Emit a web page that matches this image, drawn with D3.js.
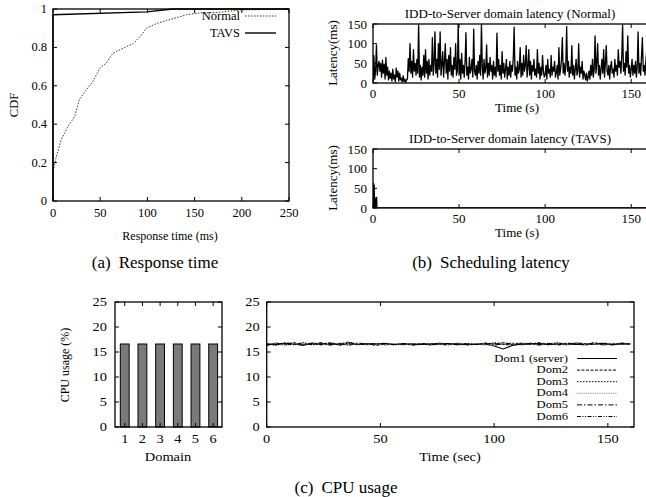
<!DOCTYPE html>
<html><head><meta charset="utf-8">
<script src="https://cdn.jsdelivr.net/npm/d3@7/dist/d3.min.js"></script>
<style>
body{margin:0;background:#fff;}
svg{display:block;}
text{font-family:"Liberation Serif","Times New Roman",Times,serif;fill:#000;}
</style></head>
<body><svg id="c" width="646" height="497"></svg>
<script>
// ---------- DATA ----------
// (a) CDF of response time
const normalRT  = [0, 0, 3.5, 8.8, 16, 23, 28, 37, 42, 49.5, 56.6, 63.6, 74, 85, 92, 99, 110, 120, 131, 141.5, 152, 175, 198, 250];
const normalCDF = [0, 0.15, 0.23, 0.32, 0.39, 0.44, 0.53, 0.59, 0.62, 0.69, 0.72, 0.77, 0.795, 0.82, 0.855, 0.90, 0.925, 0.94, 0.955, 0.97, 0.978, 0.982, 0.995, 1.0];
const tavsRT    = [0, 0, 99, 127, 250];
const tavsCDF   = [0, 0.97, 0.985, 1.0, 1.0];
const cdfXTicks = [0, 50, 100, 150, 200, 250];
const cdfYTicks = [0, 0.2, 0.4, 0.6, 0.8, 1];

// (b) scheduling latency, samples every 0.5 s
const latStep = 0.5;
const latencyNormal = [
 5,70,10,30,97,20,45,55,30,50,15,58,25,48,10,65,20,40,8,30,
 12,25,5,35,10,20,3,38,15,30,5,25,8,12,2,18,4,10,2,8,
 10,62,30,100,25,55,15,85,30,50,20,60,25,150,15,45,8,40,20,70,
 15,85,25,55,10,60,20,45,30,115,20,50,130,25,60,15,100,35,130,20,
 45,80,15,55,100,25,60,10,70,30,90,20,45,15,65,35,100,20,30,150,
 20,60,10,75,25,45,15,55,128,20,40,10,65,25,35,60,15,137,30,20,
 45,10,55,25,70,20,150,40,10,60,25,35,97,15,50,20,65,30,45,10,
 55,20,40,15,127,30,60,20,45,10,80,25,50,15,35,60,10,40,20,55,
 15,45,30,65,142,20,40,10,55,25,35,90,15,50,20,70,30,45,95,15,
 40,85,20,55,10,45,30,60,20,35,15,85,25,50,10,40,20,70,30,15,
 20,45,10,60,25,35,15,70,20,40,30,55,15,25,45,10,90,20,35,60,
 115,25,50,20,45,143,30,55,15,40,25,95,20,45,10,35,60,20,30,100,
 15,40,25,55,10,30,20,8,25,5,15,30,10,45,20,60,15,35,120,25,
 50,100,20,45,10,35,60,25,85,15,50,95,30,20,45,10,40,55,25,35,
 15,60,30,45,20,85,40,55,25,65,150,30,50,20,80,40,120,25,45,15,
 35,60,20,45,25,55,15,40,130,25,50,20,70,115,30,45,20,55,80,25
];
const tavsTime    = [0, 0.3, 0.5, 0.7, 0.9, 1.1, 1.7, 1.9, 2.1, 2.3, 2.5, 161.5];
const tavsLatency = [0, 62, 5, 58, 0, 0, 26, 4, 27, 0, 0, 0];
const latXTicks = [0, 50, 100, 150];
const latYTicks = [0, 50, 100, 150];

// (c) CPU usage
const domains  = [1, 2, 3, 4, 5, 6];
const cpuShare = [16.6, 16.6, 16.6, 16.6, 16.6, 16.6];
const cpuYTicks = [0, 5, 10, 15, 20, 25];
const cpuXTicks = [0, 50, 100, 150];
const cpuStep = 4;
const seriesNames = ["Dom1 (server)", "Dom2", "Dom3", "Dom4", "Dom5", "Dom6"];
const dom1 = [16.6,16.5,16.7,16.6,16.5,16.6,16.7,16.5,16.6,16.6,16.5,16.6,16.6,16.7,16.5,16.6,16.6,16.5,16.6,16.6,16.7,16.6,16.5,16.6,16.6,16.2,15.6,16.3,16.6,16.6,16.7,16.5,16.6,16.6,16.5,16.6,16.6,16.7,16.5,16.6,16.6];
const dom2 = [16.4,16.8,16.5,16.9,16.3,16.7,16.4,16.8,16.6,17.0,16.4,16.7,16.3,16.6,16.5,16.6,16.4,16.5,16.6,16.7,16.5,16.6,16.4,16.5,16.8,16.6,16.9,16.5,16.7,16.6,16.9,16.4,16.8,16.5,16.7,16.4,16.6,16.8,16.5,16.7,16.6];
const dom3 = [16.7,16.3,16.8,16.5,16.9,16.4,16.6,16.9,16.3,16.7,16.5,16.6,16.7,16.4,16.6,16.5,16.7,16.6,16.4,16.8,16.6,16.5,16.7,16.6,16.4,16.9,16.5,16.6,16.4,16.8,16.5,16.6,16.9,16.4,16.7,16.5,16.8,16.4,16.7,16.6,16.5];
const dom4 = [16.5,16.8,16.2,16.7,16.4,16.9,16.6,16.3,16.8,16.5,16.6,16.4,16.7,16.5,16.6,16.4,16.6,16.7,16.3,16.6,16.5,16.8,16.6,16.7,16.5,16.3,16.8,16.6,16.9,16.5,16.4,16.8,16.6,16.4,16.9,16.5,16.7,16.3,16.8,16.5,16.7];
const dom5 = [16.6,16.4,16.9,16.6,16.3,16.8,16.5,16.7,16.4,16.9,16.6,16.5,16.7,16.6,16.5,16.7,16.4,16.6,16.5,16.6,16.7,16.4,16.6,16.5,16.7,16.4,16.6,16.8,16.5,16.6,16.4,16.7,16.5,16.8,16.6,16.4,16.9,16.6,16.5,16.8,16.6];
const dom6 = [16.3,16.7,16.6,16.4,16.8,16.5,16.9,16.4,16.7,16.3,16.8,16.6,16.5,16.8,16.4,16.6,16.5,16.7,16.6,16.5,16.4,16.7,16.6,16.5,16.6,16.7,16.5,16.4,16.6,16.7,16.5,16.7,16.4,16.6,16.8,16.7,16.5,16.6,16.4,16.6,16.7];

// ---------- DRAWING ----------
const FONT = "'Liberation Serif','Times New Roman',Times,serif";
const svg = d3.select("#c");
const TL = 4; // tick length

function txt(g, x, y, s, o = {}) {
  const gg = g.append("g").attr("transform", `translate(${x},${y})` + (o.rot ? ` rotate(${o.rot})` : "") + (o.sx ? ` scale(${o.sx},1)` : ""));
  gg.append("text").attr("text-anchor", o.anchor || "middle").attr("dominant-baseline", "central")
    .attr("font-family", FONT).attr("font-size", o.size || 12).text(s);
  return gg;
}

function frame(g, x, y, o) {
  const [x0, x1] = x.range(), [y0, y1] = y.range();
  const tk = g.append("g").attr("stroke", "#000").attr("stroke-width", 1);
  o.xt.forEach(v => {
    const px = x(v);
    tk.append("line").attr("x1", px).attr("x2", px).attr("y1", y0).attr("y2", y0 - TL);
    tk.append("line").attr("x1", px).attr("x2", px).attr("y1", y1).attr("y2", y1 + TL);
  });
  o.yt.forEach(v => {
    const py = y(v);
    tk.append("line").attr("x1", x0).attr("x2", x0 + TL).attr("y1", py).attr("y2", py);
    tk.append("line").attr("x1", x1).attr("x2", x1 - TL).attr("y1", py).attr("y2", py);
  });
  g.append("rect").attr("x", x0).attr("y", y1).attr("width", x1 - x0).attr("height", y0 - y1)
    .attr("fill", "none").attr("stroke", "#000").attr("stroke-width", 1.3);
  o.xt.forEach(v => txt(g, x(v), y0 + o.xly, o.xfmt ? o.xfmt(v) : v, {size: o.fs, sx: o.sx}));
  o.yt.forEach(v => txt(g, x0 - o.ylx, y(v), o.yfmt ? o.yfmt(v) : v, {size: o.fs, anchor: "end", sx: o.sx}));
}

// ===== (a) CDF =====
{
  const g = svg.append("g");
  const x = d3.scaleLinear().domain([0, 250]).range([53, 289]);
  const y = d3.scaleLinear().domain([0, 1]).range([201, 9]);
  const ln = d3.line().x(d => x(d[0])).y(d => y(d[1]));
  g.append("path").datum(d3.zip(normalRT, normalCDF)).attr("d", ln)
    .attr("fill", "none").attr("stroke", "#333").attr("stroke-width", 1).attr("stroke-dasharray", "1.5,1.5");
  g.append("path").datum(d3.zip(tavsRT, tavsCDF)).attr("d", ln)
    .attr("fill", "none").attr("stroke", "#000").attr("stroke-width", 1.4);
  frame(g, x, y, {xt: cdfXTicks, yt: cdfYTicks, xly: 12, ylx: 6, fs: 12.5, yfmt: d => d === 0 || d === 1 ? d : d.toFixed(1)});
  txt(g, 14, 105, "CDF", {rot: -90, size: 12.5});
  txt(g, 170, 236, "Response time (ms)", {size: 12});
  txt(g, 240, 16, "Normal", {anchor: "end", size: 12.5});
  txt(g, 240, 33, "TAVS", {anchor: "end", size: 12.5});
  g.append("line").attr("x1", 245).attr("x2", 276).attr("y1", 16).attr("y2", 16)
    .attr("stroke", "#333").attr("stroke-dasharray", "1.5,1.5");
  g.append("line").attr("x1", 245).attr("x2", 276).attr("y1", 33).attr("y2", 33)
    .attr("stroke", "#000").attr("stroke-width", 1.4);
  const cap = txt(svg, 155, 262, "", {size: 17});
  cap.select("text").html('(a)<tspan dx="8">Response time</tspan>');
}

// ===== (b) Latency =====
function latencyPanel(top, title, times, values) {
  const g = svg.append("g");
  const x = d3.scaleLinear().domain([0, 161.5]).range([373, 651]);
  const y = d3.scaleLinear().domain([0, 150]).range([top + 59, top]);
  const cp = "clip" + top;
  g.append("clipPath").attr("id", cp).append("rect").attr("x", 373).attr("y", top).attr("width", 278).attr("height", 59);
  g.append("path").datum(d3.zip(times, values)).attr("clip-path", `url(#${cp})`)
    .attr("d", d3.line().x(d => x(d[0])).y(d => y(d[1])))
    .attr("fill", "none").attr("stroke", "#000").attr("stroke-width", 1.3).attr("stroke-linejoin", "round");
  frame(g, x, y, {xt: latXTicks, yt: latYTicks, xly: 10, ylx: 6, fs: 13});
  txt(g, 510, top - 11, title, {size: 13});
  txt(g, 332, top + 29, "Latency(ms)", {rot: -90, size: 13});
  txt(g, 517, top + 24 + 59, "Time (s)", {size: 13});
}
latencyPanel(24, "IDD-to-Server domain latency (Normal)", latencyNormal.map((_, i) => i * latStep), latencyNormal);
latencyPanel(149, "IDD-to-Server domain latency (TAVS)", tavsTime, tavsLatency);
{
  const cap = txt(svg, 491, 262, "", {size: 17});
  cap.select("text").html('(b)<tspan dx="8">Scheduling latency</tspan>');
}

// ===== (c) CPU bars =====
{
  const g = svg.append("g");
  const x = d3.scaleLinear().domain([0.45, 6.5]).range([115, 222]);
  const y = d3.scaleLinear().domain([0, 25]).range([427, 302]);
  g.selectAll("rect.bar").data(d3.zip(domains, cpuShare)).join("rect").attr("class", "bar")
    .attr("x", d => x(d[0] - 0.25)).attr("width", x(1.25) - x(0.75))
    .attr("y", d => y(d[1])).attr("height", d => y(0) - y(d[1]))
    .attr("fill", "#7a7a7a").attr("stroke", "#000").attr("stroke-width", 1);
  frame(g, x, y, {xt: domains, yt: cpuYTicks, xly: 12, ylx: 8, fs: 12, sx: 1.2});
  txt(g, 65, 365, "CPU usage (%)", {rot: -90, size: 12});
  txt(g, 168, 457, "Domain", {size: 12, sx: 1.2});
}

// ===== (c) CPU lines =====
{
  const g = svg.append("g");
  const x = d3.scaleLinear().domain([0, 161.5]).range([266.7, 634]);
  const y = d3.scaleLinear().domain([0, 25]).range([427, 302]);
  const series = [dom1, dom2, dom3, dom4, dom5, dom6];
  const styles = [
    {c: "#000", d: null, w: 1.1},
    {c: "#000", d: "3,1.5", w: 1},
    {c: "#000", d: "1.5,1.5", w: 1},
    {c: "#888", d: "1,0.8", w: 1.1},
    {c: "#000", d: "5,2,1.5,2", w: 1},
    {c: "#000", d: "4,1.5,1,1.5,1,1.5", w: 1}
  ];
  series.forEach((s, k) => {
    g.append("path").datum(s).attr("d", d3.line().x((d, i) => x(i * cpuStep)).y(d => y(d)))
      .attr("fill", "none").attr("stroke", styles[k].c).attr("stroke-width", styles[k].w)
      .attr("stroke-dasharray", styles[k].d);
  });
  frame(g, x, y, {xt: cpuXTicks, yt: cpuYTicks, xly: 12, ylx: 7, fs: 12, sx: 1.2});
  txt(g, 450, 457, "Time (sec)", {size: 12, sx: 1.2});
  seriesNames.forEach((n, k) => {
    const ly = 358.5 + k * 11.6;
    txt(g, 568, ly, n, {anchor: "end", size: 10.5, sx: 1.2});
    g.append("line").attr("x1", 577).attr("x2", 617).attr("y1", ly).attr("y2", ly)
      .attr("stroke", styles[k].c).attr("stroke-width", styles[k].w).attr("stroke-dasharray", styles[k].d);
  });
  const cap = txt(svg, 346, 487, "", {size: 17});
  cap.select("text").html('(c)<tspan dx="8">CPU usage</tspan>');
}
</script></body></html>
